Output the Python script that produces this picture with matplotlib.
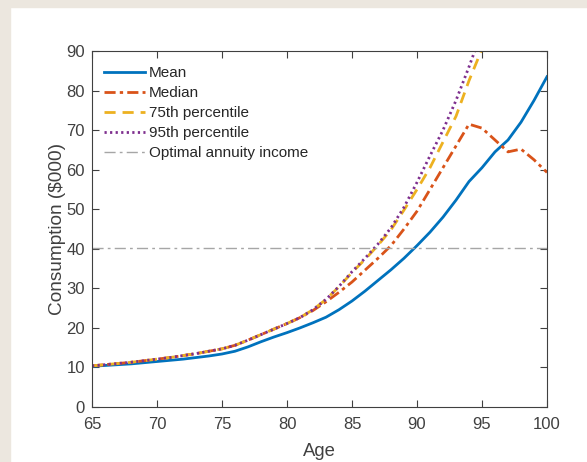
import matplotlib
matplotlib.use("Agg")
import matplotlib.pyplot as plt
from matplotlib.patches import Rectangle
import numpy as np

ages = list(range(65, 101))
mean = [10.3, 10.5, 10.7, 10.9, 11.2, 11.5, 11.8, 12.1, 12.5, 12.9,
        13.4, 14.1, 15.2, 16.5, 17.7, 18.8, 20.0, 21.3, 22.7, 24.6,
        26.8, 29.3, 32.0, 34.7, 37.6, 40.8, 44.2, 48.0, 52.3, 57.0,
        60.5, 64.5, 67.5, 72.0, 77.5, 83.5]
median = [10.4, 10.7, 11.0, 11.3, 11.7, 12.1, 12.5, 13.0, 13.5, 14.1,
          14.7, 15.6, 16.9, 18.3, 19.7, 21.1, 22.6, 24.4, 26.6, 29.0,
          31.6, 34.6, 37.6, 40.8, 45.0, 49.5, 55.0, 60.5, 66.0, 71.5,
          70.5, 67.5, 64.5, 65.2, 62.5, 59.3]
p75 = [10.4, 10.7, 11.0, 11.3, 11.7, 12.1, 12.5, 13.0, 13.5, 14.1,
       14.7, 15.6, 16.9, 18.3, 19.7, 21.1, 22.6, 24.6, 27.2, 30.4,
       34.0, 37.3, 40.9, 44.8, 49.8, 55.0, 60.5, 67.0, 73.5, 82.5,
       90.5, 99.5, 109.0, 119.0, 130.0, 142.0]
p95 = [10.4, 10.7, 11.0, 11.3, 11.7, 12.1, 12.5, 13.0, 13.5, 14.1,
       14.7, 15.6, 16.9, 18.3, 19.7, 21.1, 22.6, 24.6, 27.2, 30.5,
       34.2, 37.6, 41.2, 45.3, 50.5, 56.8, 63.5, 70.0, 77.5, 86.0,
       95.0, 104.0, 114.0, 125.0, 137.0, 150.0]
annuity_income = 40.2

labels = ["Mean", "Median", "75th percentile", "95th percentile", "Optimal annuity income"]

plt.rcParams['font.family'] = ['Liberation Sans', 'DejaVu Sans']
fig = plt.figure(figsize=(5.87, 4.62), dpi=100)
fig.patch.set_facecolor('white')
bg = '#ECE7DF'
fig.patches.append(Rectangle((0, 1 - 7/462), 1, 7/462, transform=fig.transFigure, color=bg, zorder=-10))
fig.patches.append(Rectangle((0, 0), 10/587, 1, transform=fig.transFigure, color=bg, zorder=-10))

ax = fig.add_axes([92/587, 1 - 407/462, (547 - 92)/587, (407 - 51)/462])
ax.plot(ages, mean, color='#0072BD', lw=2.0, ls='-', label=labels[0])
ax.plot(ages, median, color='#D95319', lw=2.0, ls=(0, (4, 1.5, 1.2, 1.5)), label=labels[1])
ax.plot(ages, p75, color='#EDB120', lw=2.0, ls=(0, (4, 2.5)), label=labels[2])
ax.plot(ages, p95, color='#7E2F8E', lw=2.0, ls=(0, (0.8, 1.2)), label=labels[3])
ax.axhline(annuity_income, color='#A6A6A6', lw=1.0, ls=(0, (8, 3, 2, 3)), label=labels[4])

ax.set_xlim(65, 100)
ax.set_ylim(0, 90)
ax.set_xticks(range(65, 101, 5))
ax.set_yticks(range(0, 91, 10))
dark = '#404040'
for s in ax.spines.values():
    s.set_color(dark)
    s.set_linewidth(0.8)
ax.tick_params(direction='in', length=5, width=0.8, colors=dark, labelsize=12,
               top=True, right=True, labelcolor='#404040')
ax.tick_params(axis='x', pad=7)
ax.tick_params(axis='y', pad=5)
ax.set_xlabel('Age', fontsize=13.3, color='#404040', labelpad=8)
ax.set_ylabel('Consumption ($000)', fontsize=13.7, color='#404040', labelpad=0.5)

leg = ax.legend(loc='upper left', frameon=False, fontsize=11, handlelength=2.7,
                handletextpad=0.26, labelspacing=0.4, borderaxespad=0.0,
                bbox_to_anchor=(0.013, 0.975))
for t in leg.get_texts():
    t.set_color('#262626')

fig.savefig('out.png', dpi=100)
